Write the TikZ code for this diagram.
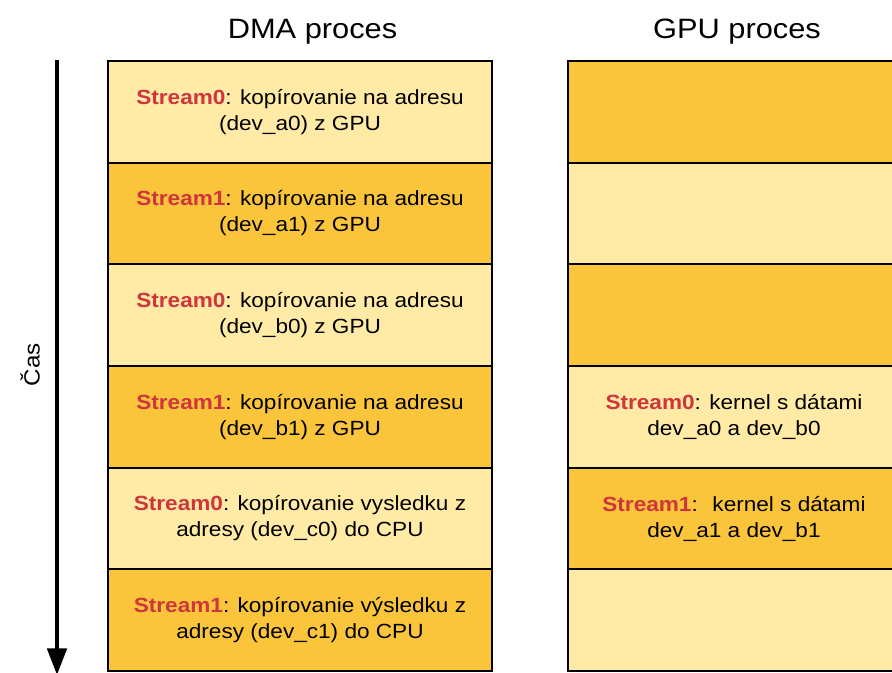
\documentclass[tikz,border=0pt]{standalone}
\usepackage{fontspec}
\setmainfont[FakeStretch=1.1]{Liberation Sans}
\usetikzlibrary{arrows.meta}
\definecolor{paleamber}{HTML}{FFEBA6}
\definecolor{deepamber}{HTML}{FBC53B}
\definecolor{streamred}{HTML}{D0343C}
\newcommand{\strm}[1]{\textcolor{streamred}{\textbf{#1}}}
\tikzset{
  slot/.style={draw=black, line width=1.5pt, minimum height=76.25pt, inner sep=0pt,
    align=center, text=black, font=\fontsize{15.4}{19.5}\selectfont},
  dmaslot/.style={slot, minimum width=288pt},
  gpuslot/.style={slot, minimum width=249pt},
  heading/.style={anchor=base, font=\fontsize{21}{25}\selectfont},
}
\begin{document}
\begin{tikzpicture}[x=0.75pt, y=-0.75pt]
      \useasboundingbox (0,0) rectangle (892,672);
      % headings
      \path
        (312.5,38) node[heading] (dmahead){DMA proces}
        (737,38) node[heading] (gpuhead){GPU proces};
      % DMA column
      \path
        (300,111.8) node[dmaslot, fill=paleamber] (d0){\strm{Stream0}: kopírovanie na adresu\\(dev\_a0) z GPU}
        (300,213.5) node[dmaslot, fill=deepamber] (d1){\strm{Stream1}: kopírovanie na adresu\\(dev\_a1) z GPU}
        (300,315.2) node[dmaslot, fill=paleamber] (d2){\strm{Stream0}: kopírovanie na adresu\\(dev\_b0) z GPU}
        (300,416.8) node[dmaslot, fill=deepamber] (d3){\strm{Stream1}: kopírovanie na adresu\\(dev\_b1) z GPU}
        (300,518.5) node[dmaslot, fill=paleamber] (d4){\strm{Stream0}: kopírovanie vysledku z\\adresy (dev\_c0) do CPU}
        (300,620.2) node[dmaslot, fill=deepamber] (d5){\strm{Stream1}: kopírovanie výsledku z\\adresy (dev\_c1) do CPU};
      % GPU column
      \path
        (734,111.8) node[gpuslot, fill=deepamber] (g0){}
        (734,213.5) node[gpuslot, fill=paleamber] (g1){}
        (734,315.2) node[gpuslot, fill=deepamber] (g2){}
        (734,416.8) node[gpuslot, fill=paleamber] (g3){\strm{Stream0}: kernel s dátami\\dev\_a0 a dev\_b0}
        (734,518.5) node[gpuslot, fill=deepamber] (g4){\strm{Stream1}: ~kernel s dátami\\dev\_a1 a dev\_b1}
        (734,620.2) node[gpuslot, fill=paleamber] (g5){};
      % time axis
      \coordinate (tstart) at (57,60);
      \coordinate (tend) at (57,675);
      \draw[line width=3pt, -{Triangle[length=20pt, width=14.5pt]}] (tstart) -- (tend);
      \node[rotate=90, font=\fontsize{16.5}{20}\selectfont] (cas) at (30,364.5) {Čas};
    \end{tikzpicture}
\end{document}
